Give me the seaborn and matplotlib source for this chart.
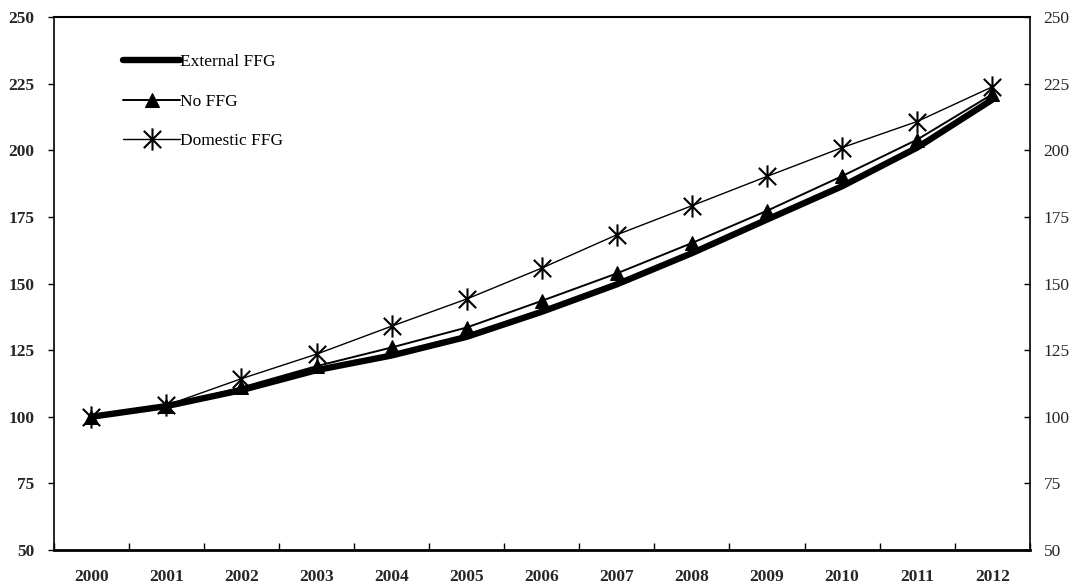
import matplotlib
matplotlib.use("Agg")
import matplotlib.pyplot as plt
from matplotlib.path import Path
import seaborn as sns
import pandas as pd
import numpy as np

years = ["2000", "2001", "2002", "2003", "2004", "2005", "2006",
         "2007", "2008", "2009", "2010", "2011", "2012"]
external_ffg = [100, 104, 110, 117.5, 123, 130, 139.4, 149.7, 161.4, 174, 186.5, 201, 219]
no_ffg = [100, 104, 111, 119, 126, 133.5, 143.5, 153.8, 165.2, 177.3, 190.3, 204, 221]
domestic_ffg = [100, 104.3, 114.3, 123.5, 134, 144.2, 155.8, 168.3, 179.2, 190.2, 201, 210.8, 223.8]

sns.set_theme(style="white")
plt.rcParams['font.family'] = ['Liberation Serif', 'DejaVu Serif']

fig = plt.figure(figsize=(10.76, 5.88), dpi=100)
ax = fig.add_axes([0.050, 0.0646, 0.907, 0.9064])

x = np.arange(len(years))
df = pd.DataFrame({"x": x, "ext": external_ffg, "no": no_ffg, "dom": domestic_ffg})

d = 0.78
star = Path([(0, -1), (0, 1), (-d, -d), (d, d), (-d, d), (d, -d)],
            [Path.MOVETO, Path.LINETO, Path.MOVETO, Path.LINETO, Path.MOVETO, Path.LINETO])

sns.lineplot(data=df, x="x", y="ext", ax=ax, color="black", linewidth=4.6,
             label="External FFG", solid_capstyle="round")
sns.lineplot(data=df, x="x", y="no", ax=ax, color="black", linewidth=1.4,
             marker="^", markersize=10, markeredgecolor="black",
             markerfacecolor="black", label="No FFG")
sns.lineplot(data=df, x="x", y="dom", ax=ax, color="black", linewidth=1.0,
             marker=star, markersize=16, markeredgewidth=1.5, fillstyle="none",
             markeredgecolor="black", label="Domestic FFG")

ax.set_xlim(-0.5, len(years) - 0.5)
ax.set_ylim(50, 250)
ax.set_xlabel("")
ax.set_ylabel("")
ax.set_xticks(x)
ax.set_xticklabels(years, fontsize=12.5, fontweight="bold")
ax.set_xticks(np.arange(-0.5, len(years), 1.0), minor=True)
ax.tick_params(axis="x", which="major", length=0, pad=14)
ax.tick_params(axis="x", which="minor", direction="in", length=5, width=1, color="black", bottom=True)
ax.set_yticks(np.arange(50, 251, 25))
ax.tick_params(axis="y", which="major", direction="out", length=4, width=1,
               color="black", left=True, labelsize=12.5, pad=10)
for lab in ax.get_yticklabels():
    lab.set_fontweight("bold")

for side in ["left", "right", "top"]:
    ax.spines[side].set_color("black")
    ax.spines[side].set_linewidth(1.2)
ax.spines["bottom"].set_color("black")
ax.spines["bottom"].set_linewidth(2.0)
ax.spines["top"].set_linewidth(1.5)

ax2 = ax.twinx()
ax2.set_ylim(50, 250)
ax2.set_yticks(np.arange(50, 251, 25))
ax2.tick_params(axis="y", direction="in", length=4, width=1, color="black",
                right=True, labelsize=12.5, pad=10)
ax2.grid(False)
for side in ["left", "right", "top", "bottom"]:
    ax2.spines[side].set_visible(False)

leg = ax.legend(loc="upper left", bbox_to_anchor=(0.055, 0.96), frameon=False,
                handlelength=3.3, handletextpad=0.0, labelspacing=1.35,
                prop={"family": "Liberation Serif", "size": 12.5})
for t in leg.get_texts():
    t.set_color("black")

fig.savefig("out.png", dpi=100)
